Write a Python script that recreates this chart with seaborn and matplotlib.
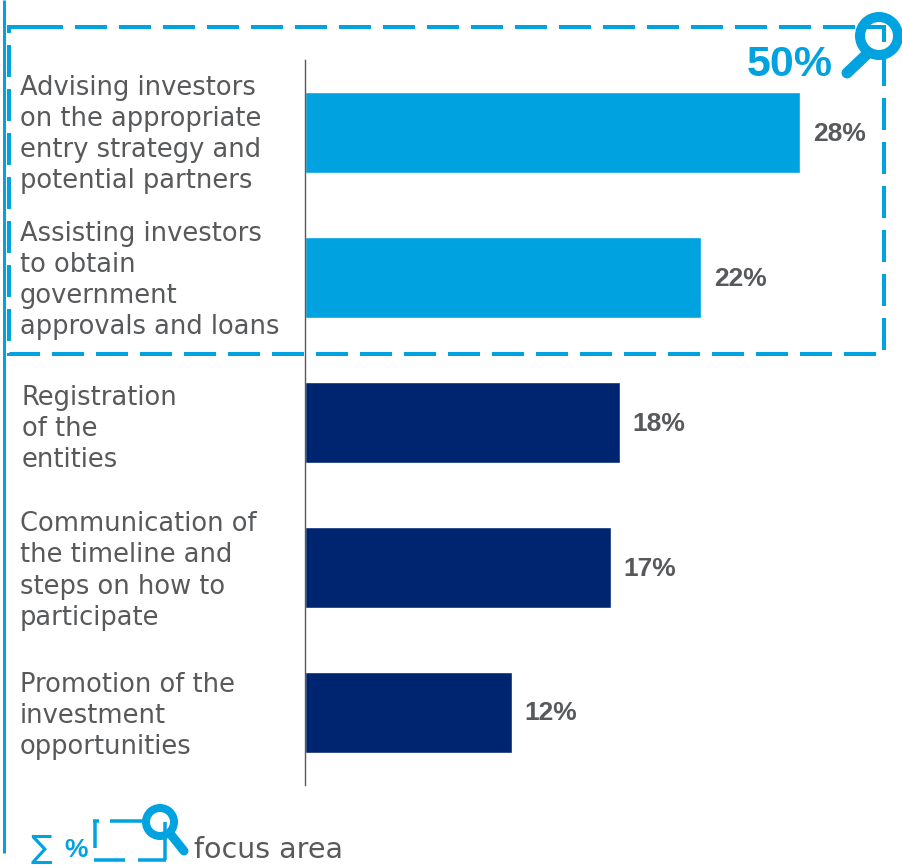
import pandas as pd
import matplotlib
matplotlib.use("Agg")
import matplotlib.pyplot as plt
import seaborn as sns
from matplotlib.patches import Circle
from matplotlib.transforms import ScaledTranslation

categories = [
    "Advising investors\non the appropriate\nentry strategy and\npotential partners",
    "Assisting investors\nto obtain\ngovernment\napprovals and loans",
    "Registration\nof the\nentities",
    "Communication of\nthe timeline and\nsteps on how to\nparticipate",
    "Promotion of the\ninvestment\nopportunities",
]
values = [28.0, 22.4, 17.8, 17.3, 11.7]
value_labels = ["28%", "22%", "18%", "17%", "12%"]
groups = ["focus", "focus", "other", "other", "other"]

LIGHT = "#00a3e0"
DARK = "#002570"
GREY = "#58595b"
FONT = "DejaVu Sans"
BOLD = "Liberation Sans"

sns.set_theme(style="white")
plt.rcParams["font.family"] = [FONT]
plt.rcParams["lines.scale_dashes"] = False

df = pd.DataFrame({"category": categories, "value": values, "group": groups})

W, H = 903, 865
fig = plt.figure(figsize=(W / 100, H / 100), dpi=100)
px = 72 / 100

# main bars, 305..903 across, 60..785 down
ax = fig.add_axes([305 / W, 1 - 785 / H, (W - 305) / W, 725 / H])
sns.barplot(
    data=df, y="category", x="value", hue="group", dodge=False, legend=False,
    palette={"focus": LIGHT, "other": DARK}, width=0.56, saturation=1, ax=ax,
)
ax.set_xlim(0, (W - 305) / 17.68)
ax.set_xlabel("")
ax.set_ylabel("")
ax.xaxis.set_visible(False)
for side in ["top", "right", "bottom"]:
    ax.spines[side].set_visible(False)
ax.spines["left"].set_color(GREY)
ax.spines["left"].set_linewidth(1.0)
ax.tick_params(axis="y", length=0, pad=285 * px, labelcolor=GREY)

# small nudges so the labels sit where they do in the original
nudge_x = [0, 0, 2, 0, 0]
nudge_y = [3.5, 2.5, -1, 2, 2]
for i, lab in enumerate(ax.get_yticklabels()):
    lab.set_ha("left")
    lab.set_fontsize(18.5)
    lab.set_linespacing(1.26)
    lab.set_transform(lab.get_transform() + ScaledTranslation(nudge_x[i] / 100, nudge_y[i] / 100, fig.dpi_scale_trans))

for i, (v, t) in enumerate(zip(values, value_labels)):
    ax.annotate(t, (v, i), xytext=(13 * px, -1 * px), textcoords="offset points",
                va="center", ha="left", color=GREY, fontsize=19, fontweight="bold", family=BOLD)

# overlay in pixel coordinates for the callout decoration
ov = fig.add_axes([0, 0, 1, 1], facecolor="none")
ov.set_xlim(0, W)
ov.set_ylim(H, 0)
ov.axis("off")

# left rule
ov.plot([4, 4], [0, 853], color=LIGHT, lw=3 * px, solid_capstyle="butt")

# dashed focus box
ov.plot([31, 884, 884, 9, 9, 31], [27, 27, 354, 354, 27, 27], color=LIGHT, lw=4 * px,
        linestyle=(0, (32 * px, 12 * px)), dash_capstyle="butt", dash_joinstyle="miter")


def magnifier(cx, cy, r, ring, hx0, hy0, hx1, hy1, hw):
    ov.add_patch(Circle((cx, cy), r, fill=False, ec=LIGHT, lw=ring * px))
    ov.plot([hx0, hx1], [hy0, hy1], color=LIGHT, lw=hw * px, solid_capstyle="round")


magnifier(879, 36, 19, 10, 866, 55, 847, 73, 11)
ov.text(833, 65, "50%", color=LIGHT, fontsize=31, fontweight="bold", ha="right", va="center", family=BOLD)

# legend
ov.text(31, 850, "∑", color=LIGHT, fontsize=23, va="center", ha="left")
ov.text(64, 850, "%", color=LIGHT, fontsize=19, fontweight="bold", va="center", ha="left", family=BOLD)
seg = dict(color=LIGHT, lw=3.5 * px, solid_capstyle="butt")
ov.plot([110, 145], [821, 821], **seg)
ov.plot([94, 125], [860, 860], **seg)
ov.plot([138, 166], [860, 860], **seg)
ov.plot([95, 95], [821, 848], **seg)
ov.plot([93, 99], [821, 821], **seg)
ov.plot([165, 165], [822, 860], **seg)
magnifier(160, 822, 14, 8, 172, 836, 184, 851, 9)
ov.text(194, 850, "focus area", color=GREY, fontsize=20.5, va="center", ha="left")

fig.savefig("out.png", dpi=100)
